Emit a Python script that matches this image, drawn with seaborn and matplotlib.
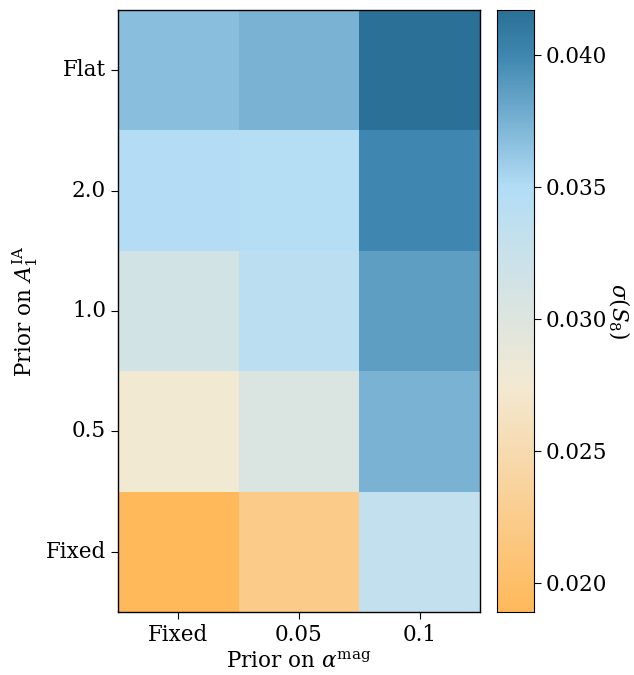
import numpy as np
import pandas as pd
import seaborn as sns
import matplotlib
matplotlib.use("Agg")
import matplotlib.pyplot as plt
from matplotlib.colors import LinearSegmentedColormap

plt.rcParams["font.family"] = ["DejaVu Serif"]
plt.rcParams["mathtext.fontset"] = "dejavuserif"

# Prior choices
ia_priors = ["Flat", "2.0", "1.0", "0.5", "Fixed"]
mag_priors = ["Fixed", "0.05", "0.1"]

# sigma(S8) for each column (alpha_mag prior), rows follow ia_priors
sigma_fixed = [0.0368, 0.0348, 0.0314, 0.0276, 0.0189]
sigma_005 = [0.0375, 0.0346, 0.0340, 0.0304, 0.0222]
sigma_01 = [0.0417, 0.0400, 0.0386, 0.0375, 0.0332]

df = pd.DataFrame({"Fixed": sigma_fixed, "0.05": sigma_005, "0.1": sigma_01},
                  index=ia_priors)[mag_priors]

vmin, vmax = min(sigma_fixed), max(sigma_01)
def frac(v):
    return (v - vmin) / (vmax - vmin)

cmap = LinearSegmentedColormap.from_list(
    "orange_blue",
    [(0.0, "#FFB95A"), (frac(0.0275), "#F3E9D3"),
     (frac(0.0350), "#B2DDF6"), (frac(0.0400), "#3F87B0"),
     (1.0, "#2B7096")])

fig = plt.figure(figsize=(6.34, 6.75), dpi=100)
ax = fig.add_axes([0.186, 0.0933, 0.571, 0.8919])
cax = fig.add_axes([0.784, 0.0933, 0.058, 0.8919])

sns.heatmap(df, ax=ax, cbar_ax=cax, cmap=cmap, vmin=vmin, vmax=vmax)

for s in ax.spines.values():
    s.set_visible(True)
    s.set_linewidth(1.0)
ax.tick_params(labelsize=15.5, length=5, rotation=0)
ax.set_yticklabels(ia_priors, rotation=0)
ax.set_xlabel(r"Prior on $\alpha^{\rm mag}$", fontsize=15.5)
ax.set_ylabel(r"Prior on $A_1^{\rm IA}$", fontsize=15.5)

cax.tick_params(labelsize=15.5, length=5)
cax.set_yticks([0.020, 0.025, 0.030, 0.035, 0.040])
cax.set_yticklabels(["0.020", "0.025", "0.030", "0.035", "0.040"])
for s in cax.spines.values():
    s.set_visible(True)
cax.set_ylabel(r"$\sigma(S_8)$", fontsize=15.5, rotation=270, labelpad=17)

fig.savefig("out.png", dpi=100)
